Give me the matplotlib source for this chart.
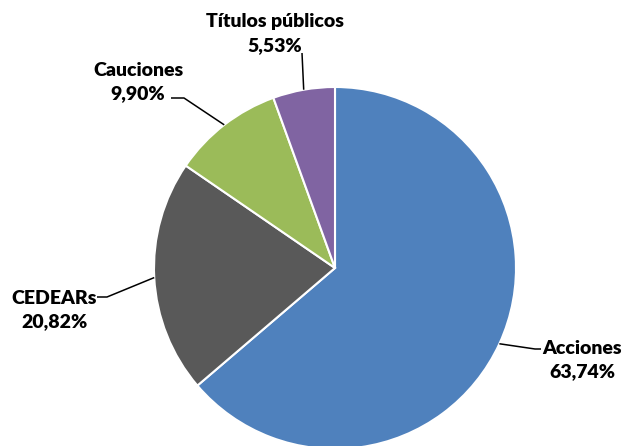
import matplotlib
matplotlib.use("Agg")
import matplotlib.pyplot as plt
import numpy as np

labels = ["Acciones", "CEDEARs", "Cauciones", "Títulos públicos"]
shares = [63.74, 20.82, 9.90, 5.53]
colors = ["#4F81BD", "#595959", "#9BBB59", "#8064A2"]

# label block centres and leader elbows, in pixel coords (y down)
text_pos = [(582, 360), (54, 310), (138, 82), (275, 34)]
elbows = [[(535, 349), (541, 349)],
          [(107, 297), (97, 297)],
          [(184, 98), (171, 98)],
          [(302, 53)]]

W, H = 622, 446
cx, cy, r = 335, 268, 181

fig = plt.figure(figsize=(W / 100, H / 100), dpi=100)
ax = fig.add_axes([0, 0, 1, 1])
ax.pie(shares, colors=colors, startangle=90, counterclock=False,
       center=(cx, H - cy), radius=r,
       wedgeprops=dict(edgecolor="white", linewidth=1.5))
ax.set_xlim(0, W)
ax.set_ylim(0, H)
ax.set_aspect("equal")
ax.axis("off")

total = sum(shares)
start = 90.0
for lab, val, tp, elb in zip(labels, shares, text_pos, elbows):
    mid = np.deg2rad(start - 360 * (val / total) / 2)
    start -= 360 * val / total
    x0 = cx + r * np.cos(mid)
    y0 = (H - cy) + r * np.sin(mid)
    xs = [x0] + [p[0] for p in elb]
    ys = [y0] + [H - p[1] for p in elb]
    ax.plot(xs, ys, color="black", lw=1.1, solid_capstyle="butt")
    txt = "%s\n%s%%" % (lab, ("%.2f" % val).replace(".", ","))
    ax.text(tp[0], H - tp[1], txt, ha="center", va="center",
            fontsize=14, fontweight="heavy", family="Lato",
            linespacing=1.5, color="black")

fig.savefig("out.png", dpi=100)
